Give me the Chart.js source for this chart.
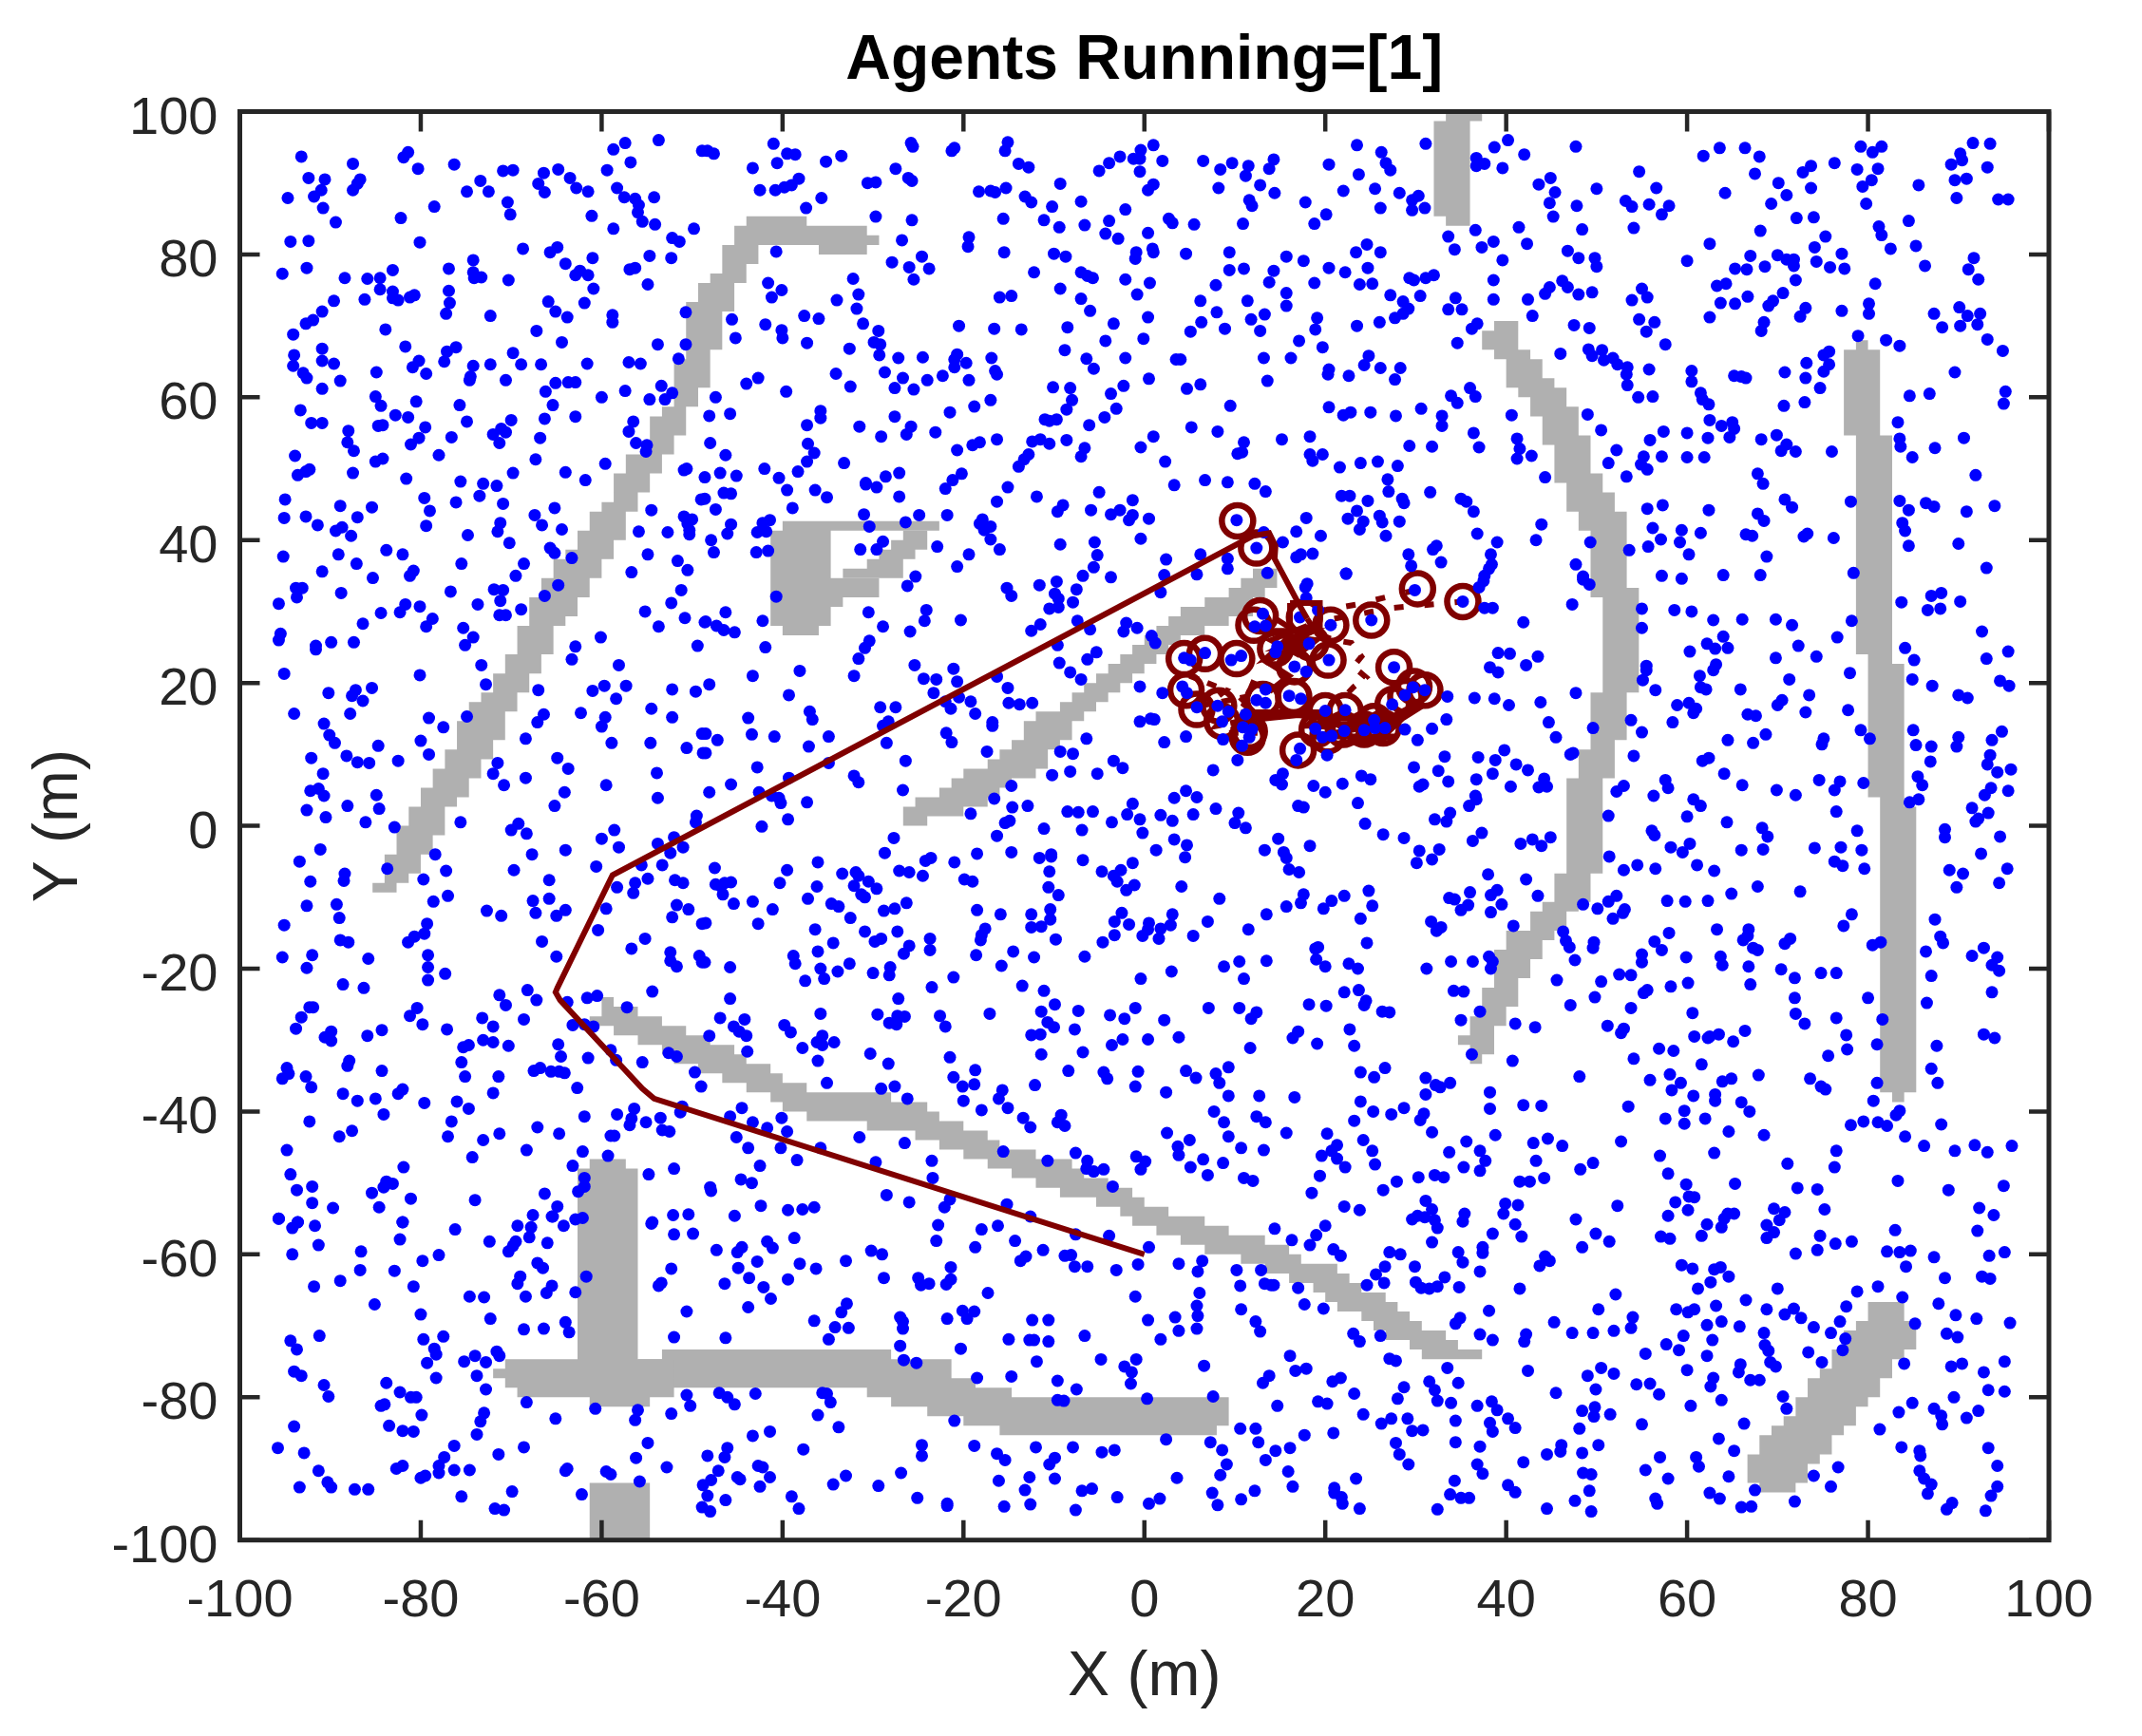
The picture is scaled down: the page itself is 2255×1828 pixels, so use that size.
<!DOCTYPE html>
<html>
<head>
<meta charset="utf-8">
<style>html,body{margin:0;padding:0;background:#fff}canvas{display:block}</style>
<script src="https://cdn.jsdelivr.net/npm/chart.js@4/dist/chart.umd.js"></script>
</head>
<body>
<canvas id="c" width="2255" height="1828"></canvas>
<script>
const tickValues = [-100,-80,-60,-40,-20,0,20,40,60,80,100];

// obstacle outlines: [y where the step starts, x of the edge]
const wallALeft = [[85.33,-44],[84,-45.33],[81.33,-46.67],[77.33,-48],[76,-49.33],[73.33,-50.67],[65.33,-52],[58.67,-53.33],[57.33,-54.67],[52,-57.33],[49.33,-58.67],[45.33,-60],[44,-61.33],[41.33,-62.67],[38.67,-64],[37.33,-65.33],[34.67,-66.67],[32,-68],[28,-69.33],[24,-70.67],[21.33,-72],[18.67,-73.33],[17.33,-74.67],[14.67,-76],[10.67,-77.33],[8,-78.67],[5.33,-80],[2.67,-81.33],[0,-82.67],[-4,-84],[-8,-85.33]];
const wallARight = [[85.33,-37.33],[84,-30.67],[82.67,-29.33],[81.33,-42.67],[78.67,-44],[76,-45.33],[72,-46.67],[66.67,-48],[61.33,-49.33],[58.67,-50.67],[54.67,-52],[52,-53.33],[49.33,-54.67],[46.67,-56],[44,-57.33],[40,-58.67],[37.33,-60],[34.67,-61.33],[32,-62.67],[29.33,-64],[28,-65.33],[24,-66.67],[21.33,-68],[18.67,-69.33],[16,-70.67],[12,-72],[9.33,-73.33],[6.67,-74.67],[4,-76],[2.67,-77.33],[-1.33,-78.67],[-4,-80],[-6.67,-81.33],[-8,-82.67]];
const wallA2Left = [[81.33,-36]], wallA2Right = [[81.33,-30.67]];
const wallBLeft = [[100,33.33],[98.67,32],[85.33,33.33]], wallBRight = [[100,37.33],[98.67,36]];
const wallCLeft = [[70.67,38.67],[69.33,37.33],[66.67,38.67],[65.33,40],[61.33,41.33],[60,42.67],[57.33,44],[53.33,45.33],[48,46.67],[44,48],[41.33,49.33],[32,50.67],[18.67,49.33],[10.67,48],[6.67,46.67],[-6.67,45.33],[-10.67,44],[-12,42.67],[-14.67,40],[-17.33,38.67],[-22.67,37.33],[-26.67,36],[-29.33,34.67],[-30.67,36]];
const wallCRight = [[70.67,41.33],[66.67,42.67],[65.33,44],[62.67,45.33],[61.33,46.67],[58.67,48],[54.67,49.33],[49.33,50.67],[46.67,52],[44,53.33],[33.33,54.67],[18.67,53.33],[12,52],[6.67,50.67],[-6.67,49.33],[-10.67,48],[-12,46.67],[-14.67,45.33],[-16,44],[-18.67,42.67],[-21.33,41.33],[-25.33,40],[-28,38.67],[-32,37.33]];
const wallDLeft = [[68,78.67],[66.67,77.33],[54.67,78.67],[24,80],[4,81.33],[-37.33,82.67]];
const wallDRight = [[68,80],[66.67,81.33],[54.67,82.67],[22.67,84],[2.67,85.33],[-37.33,84]];
const wallELeft = [[42.67,-40],[41.33,-41.33],[28,-40]];
const wallERight = [[42.67,-22.67],[41.33,-34.67],[34.67,-29.33],[32,-33.33],[30.67,-34.67],[28,-36]];
const wallE2Left = [[41.33,-26.67],[40,-28],[38.67,-29.33],[37.33,-30.67],[36,-33.33]];
const wallE2Right = [[41.33,-24],[38.67,-25.33],[37.33,-26.67]];
const wallFLeft = [[36,12],[34.67,10.67],[33.33,9.33],[32,6.67],[30.67,4],[29.33,2.67],[28,1.33],[26.67,0],[25.33,-1.33],[24,-2.67],[22.67,-4],[21.33,-5.33],[20,-6.67],[18.67,-8],[17.33,-9.33],[16,-12],[14.67,-13.33],[12,-14.67],[10.67,-16],[9.33,-17.33],[8,-20],[6.67,-21.33],[5.33,-22.67],[4,-25.33],[2.67,-26.67]];
const wallFRight = [[36,14.67],[33.33,13.33],[32,12],[29.33,9.33],[28,6.67],[26.67,4],[25.33,2.67],[24,1.33],[22.67,0],[21.33,-1.33],[20,-2.67],[18.67,-4],[17.33,-5.33],[16,-6.67],[14.67,-8],[12,-9.33],[10.67,-10.67],[8,-12],[6.67,-14.67],[5.33,-16],[4,-17.33],[2.67,-20],[1.33,-24]];
const wallGLeft = [[-24,-60],[-26.67,-61.33],[-28,-58.67],[-29.33,-56],[-30.67,-53.33],[-32,-52],[-33.33,-49.33],[-34.67,-46.67],[-36,-44],[-37.33,-41.33],[-38.67,-40],[-40,-37.33],[-41.33,-30.67],[-42.67,-25.33],[-44,-22.67],[-45.33,-20],[-46.67,-17.33],[-48,-14.67],[-49.33,-12],[-50.67,-9.33],[-52,-5.33],[-53.33,-2.67],[-54.67,-1.33],[-56,1.33],[-57.33,4],[-58.67,6.67],[-60,10.67],[-61.33,13.33],[-62.67,16],[-64,18.67],[-65.33,20],[-66.67,21.33],[-68,24],[-69.33,25.33],[-70.67,26.67],[-72,29.33],[-73.33,30.67]];
const wallGRight = [[-24,-58.67],[-25.33,-56],[-26.67,-53.33],[-28,-50.67],[-29.33,-48],[-30.67,-45.33],[-32,-44],[-33.33,-41.33],[-34.67,-40],[-36,-37.33],[-37.33,-28],[-38.67,-24],[-40,-22.67],[-41.33,-20],[-42.67,-17.33],[-44,-16],[-45.33,-12],[-46.67,-8],[-48,-6.67],[-49.33,-4],[-50.67,-1.33],[-52,0],[-53.33,2.67],[-54.67,6.67],[-56,9.33],[-57.33,13.33],[-58.67,16],[-60,17.33],[-61.33,21.33],[-62.67,22.67],[-64,24],[-65.33,26.67],[-66.67,28],[-68,29.33],[-69.33,30.67],[-70.67,33.33],[-72,34.67],[-73.33,37.33]];
const wallHLeft = [[-46.67,-61.33],[-48,-62.67],[-74.67,-70.67],[-76,-72],[-77.33,-70.67],[-78.67,-69.33],[-80,-61.33]];
const wallHRight = [[-46.67,-57.33],[-48,-56],[-74.67,-52],[-80,-54.67]];
const wallH2Left = [[-73.33,-53.33],[-74.67,-56],[-78.67,-30.67],[-80,-28],[-81.33,-24],[-82.67,-20],[-84,-16]];
const wallH2Right = [[-73.33,-28],[-74.67,-21.33],[-77.33,-18.67],[-78.67,-14.67],[-80,9.33],[-84,8]];
const wallJLeft = [[-92,-61.33]], wallJRight = [[-92,-54.67]];
const wallILeft = [[-66.67,80],[-69.33,78.67],[-70.67,77.33],[-73.33,76],[-76,74.67],[-77.33,73.33],[-80,72],[-82.67,70.67],[-84,69.33],[-85.33,68],[-88,66.67],[-92,68]];
const wallIRight = [[-66.67,84],[-69.33,85.33],[-73.33,84],[-74.67,82.67],[-77.33,81.33],[-80,80],[-81.33,78.67],[-84,77.33],[-85.33,76],[-88,74.67],[-89.33,73.33],[-92,72]];
const holeALeft = [[34.67,-64]], holeARight = [[34.67,-62.67]];

// robot path
const pathX = [0,-54.2,-55.5,-64.6,-65.1,-64.9,-58.8,-57.9,12,13.8,14.5,14.4,17.1,18];
const pathY = [-60,-38.2,-36.8,-24.4,-23.3,-22.7,-6.9,-6.3,40.6,41,39.2,37.4,31,29];
const squareX = [16.1,19.4,19.4,16.1,16.1], squareY = [31.2,31.2,27.3,27.3,31.2];
const trailAX = [18,19,21,22.9,24,23.1,24.5,23.1,21.7], trailAY = [29,27,26,25.6,23.7,22.3,20.8,19.4,17.5];
const trailBX = [19,23.5,27,30], trailBY = [30,31,32.1,33];
const trailCX = [21,27.3,32.7,35.2], trailCY = [29,30.5,31.1,31.4];
const trailDX = [14.5,17,16,18,15,13.5,16,14,12,11,13,17,20,24,27,30], trailDY = [29,27,25,26,24,23,21,19,20,17,15,15.5,15,15,15,17];
const trailEX = [13,18.7,15,18.7,13.5,16,19,17,14,18], trailEY = [27.3,27.3,25,25.5,23.5,26.5,26,24,26,28];
const trailFX = [10.7,19.4,18,28,18.5,28,21,26,28.5,31], trailFY = [15.9,15.9,14,14.5,12.5,12.5,11.5,12,15,17];
const trailGX = [5,9,7,11,8,12,9,13], trailGY = [21,19,17,18,14,15,13,13];

// agents shown with a ring: x,y,x,y...
const agentRings = [10.3,42.7,12.4,38.9,30.2,33.2,35.2,31.4,25.1,28.8,27.6,22.2,20.6,28.1,12.8,29.4,12.1,28.1,17.7,29.2,18.4,25.6,20.3,23.2,4.4,23.4,6.7,24.1,10.2,23.4,14.5,24.8,16.6,22.3,4.6,19,5.8,16.3,8.2,16.8,8.6,14.6,11.6,13.2,11.4,12.4,13.1,17.7,16.5,18.1,20,16.1,22.2,16.1,17,10.6,19.1,13.5,20.3,12.6,22,13.5,24.3,13.5,25.4,14.6,26.4,13.7,27.5,17,28.9,18.1,31,19,29.8,19.5];

// blue agents by region of the plot: x,y,x,y...
const dotsNW = [-93.2,93.7,-87.5,92.7,-81.4,94.3,-81.9,93.6,-80.3,92,-76.3,92.6,-70.9,91.7,-69.8,91.8,-92.4,90.7,-90.6,90.5,-86.7,90.5,-87,89.9,-91,89,-91.8,88.1,-94.7,87.9,-87.5,89,-90.8,86.5,-89.4,84.5,-78.5,86.7,-82.2,85.1,-74.9,88.8,-73.4,90.3,-72.5,88.8,-70.4,87.3,-70.1,85.6,-66.4,91.4,-67,89.9,-66.3,88.7,-64.8,91.9,-63.5,90.7,-62.8,89.3,-61.5,88.8,-61.1,85.4,-59.4,91.8,-58.7,94.7,-57.4,95.6,-56.8,92.9,-53.7,96,-48.9,94.5,-58.3,89.3,-57.5,88,-56.3,87.8,-55.9,86.9,-56,85.9,-55.5,84.6,-54.2,88,-54.1,84.2,-58.7,83.6,-52.2,82.3,-51.4,81.8,-49.8,83.6,-94.4,81.8,-92.4,81.9,-80.1,81.7,-68.7,80.8,-65.7,80.3,-64.9,81,-95.3,77.3,-92.6,78.1,-88.4,76.7,-85.9,76.6,-84.5,76.7,-83.1,77.8,-84.5,75.1,-83.1,74.8,-83.1,73.9,-82.5,73.6,-81.2,74,-80.7,74.3,-86.2,73.7,-76.9,78,-76.9,74.9,-76.8,73.2,-77.2,71.7,-74.2,79.2,-74.2,77.5,-74.1,76.7,-73.3,76.8,-70.3,76.4,-72.3,71.4,-64,78.7,-61,79.5,-62.4,77.7,-62.9,77.1,-61.5,77.1,-60.9,75.2,-61.9,73.2,-65.9,73.4,-65.1,72,-63.8,71.2,-54.7,79.8,-52.3,79.5,-56.9,77.9,-56.3,78.1,-54.9,75.8,-58.8,71.5,-58.8,70.5,-50.7,71.9,-89.6,73.5,-90.9,72,-91.9,70.8,-92.7,70.3,-94.1,68.8,-83.9,69.5,-81.7,67.1,-90.9,66.8,-94,65.9,-90.9,65.1,-89.6,64.7,-94.1,64.4,-93,63.4,-92.6,62.7,-88.9,62.3,-90.9,61.2,-80.2,65.1,-80.9,64.2,-79.4,63.3,-76.1,67,-77.1,66.4,-77.4,65,-74.2,64.4,-72.3,64.6,-74.5,62.9,-74.6,62.4,-70.6,62.4,-69.8,66.2,-68.9,64.6,-66.7,64.6,-67.2,69.3,-64.4,67.7,-61.6,64.7,-57,64.9,-55.7,64.7,-53.8,67.4,-50.7,67.4,-51.5,65.4,-84.9,63.5,-65.1,62,-63.7,62.1,-62.9,62.1,-66.2,60.8,-60,60,-57.4,60.9,-53.4,61.6,-52.2,60.6,-54.7,59.7,-53,59.7,-85,60.1,-84.4,58.8,-80.5,59.4,-75.7,58.9,-93.3,58.2,-92.1,56.4,-90.9,56.4,-88,55.3,-88.1,53.7,-87.4,52.5,-82.8,57.5,-81.4,57.2,-84.7,56,-84.2,56.1,-79.5,55.8,-80.2,54.3,-81.1,53.4,-76.6,54.4,-74.9,56.6,-70,56.8,-71.1,55.6,-70.6,55.1,-72,54.8,-71.3,53.6,-66.3,57,-65.4,58.9,-62.9,57.3,-66.8,54.3,-56.5,56.6,-57,55.2,-56.2,53.6,-55,53.3,-55.1,52.4,-93.9,51.8,-78,51.9,-67.3,51.3,-59.6,50.7,-84.2,51.4,-85,51,-92.3,49.9,-92.7,49.6,-93.6,49.1,-87.5,49.4,-81.6,48.6,-69.8,49.4,-64,49.5,-61.8,48.4,-50.9,49.8,-50.6,50,-75.6,48.2,-73.1,47.9,-71.6,47.6];
const dotsN = [-48.3,94.5,-47.6,94.1,-41,95.5,-39.5,94.1,-38.6,94,-40.6,92.8,-43.3,92.1,-35.2,93,-33.5,93.8,-42.5,89,-40.8,89,-39.8,89.4,-39,89.7,-38.2,90.6,-35.7,87.9,-37.4,86.5,-30.6,90,-29.7,90.1,-27.5,92,-26.1,90.7,-25.7,90.3,-25.8,95.6,-25.6,95.1,-21,94.9,-21.3,94.5,-15.1,95.7,-15.4,94.5,-13.9,92.7,-12.8,92.2,-9.3,89.9,-18.3,88.8,-17,88.9,-16.5,88.7,-15.3,89.3,-13.2,88.1,-12.5,87.3,-10.2,86.7,-11.1,84.8,-9.4,83.8,-7,87.4,-6.6,84.1,-15.6,85,-29.7,85.3,-25.7,84.8,-26.8,82,-19.4,82.4,-19.5,81.1,-15.5,80.3,-10,80.1,-8.7,79.7,-24.6,79.7,-27.9,78.9,-26,78.2,-23.8,78,-25.5,76.5,-40.7,80.4,-32.2,76.6,-31.6,74.4,-34,73.6,-31.8,72.4,-41.6,76,-40.1,75,-41.2,74,-45.6,70.9,-45.2,68.3,-41.9,70.2,-37.6,71.4,-36,71,-40.1,69.4,-40,68.3,-37.3,67.6,-31.1,70.3,-29.4,69.3,-29.9,67.7,-29.2,67.4,-29.3,65.9,-32.6,66.8,-27.2,65.5,-24.5,65.6,-20.5,70,-16.6,69.6,-13.6,69.5,-12.2,77.5,-16,74,-14.7,74.2,-9.3,75.2,-7,73.8,-6,72.1,-7,77.5,-6.3,77,-5.7,76.7,-8.5,69.8,-8.8,66.6,-6.4,65.4,-5.6,64,-3.4,70.3,-4.3,67.9,-2.1,65.5,-0.1,68.2,0.4,71.2,1,95.3,-0.4,94.6,-1.2,93.4,-0.5,93.4,2,93.1,-0.5,91.6,-2.7,93.7,-3.9,92.8,-5,91.7,1,89.8,0.4,89,-2.1,86.3,-3.9,84.7,-4.3,82.9,-2.9,82.2,0.4,83,2.7,85,3.1,84.4,-0.9,80.3,-1,79.4,0.9,80.8,1,80.3,-2.1,76.5,0.6,76,-0.8,74.4,3.5,65.3,0.5,62.6,-2.3,61.6,-3.7,60.5,-3.1,58.4,-4.4,57.2,-6.1,56.1,-10.1,61.4,-8.2,61.3,-8,59.6,-8.6,58.3,-11,56.9,-10.5,56.7,-9.7,56.9,-42.7,62.7,-44,61.9,-39.6,60.8,-47.4,60,-48.1,57.4,-45.8,57.7,-34.1,63.3,-32.5,61.5,-28.7,63.5,-26.7,62.7,-27.6,61.3,-25.5,61.1,-24,62.4,-22.3,63,-19.4,62.4,-20.7,66,-21,65.3,-19.7,64.8,-21,64.2,-16.9,65.5,-16.5,63.7,-16.3,63.2,-17,59.6,-18.8,58.7,-21.5,57.9,-27.6,57.3,-35.8,58.1,-35.8,57.1,-37.3,56.1,-31.5,55.9,-25.8,55.9,-26.3,54.8,-29.1,54.5,-23.1,55.1,-16.3,54.1,-18.2,53.7,-19,53.3,-20.7,52.6,-12.4,53.8,-11.5,54.1,-10.5,53.5,-8.6,54,-6.6,52.9,-7,51.7,-12.8,52,-13.3,51.3,-13.9,50.3,1,54.5,-0.4,53,2.3,51,-48,53.6,-46.3,51.9,-37.2,53.5,-36.5,52.2,-37.3,51,-33.2,50.8,-42,50,-46.9,49.4,-45.1,49,-40.4,48.7,-38.3,49.6,-27.1,49.4,-28.6,48.9,-20.2,49.3,-21.2,48.4,-30.8,48,-48.6,48.8];
const dotsCentre = [-39.5,47,-36.4,47,-35.1,46,-46.5,46.6,-45.7,46.5,-48.6,45.8,-47.4,44.3,-38.9,44.5,-30.8,47.8,-29.6,47.4,-27.1,46.1,-22,47.2,-15.1,47.4,-11.9,46.1,-5,46.7,-16.3,45.4,-9,44.9,-9.6,44,-5.9,44.2,-1.3,45.6,-2.7,44.2,-3.7,43.6,-1.3,43.5,-1.7,42.8,0.5,43,3.3,47.7,-31,43.6,-24.9,43.5,-21.8,43.5,-26.4,42.5,-30.4,41.9,-17.9,42.9,-18.2,42.3,-17,41.9,-17.7,41.4,-17,40.1,-16,38.7,-19.4,38,-22.9,39.1,-20.7,36.3,-45.7,42.2,-46.1,40.9,-47.9,40,-47.6,38.3,-41.4,42.8,-42.2,42.4,-42.8,41.1,-41.8,41.2,-42.9,38.3,-41.6,38.5,-31.4,38.7,-29.6,38.7,-28.9,39.8,-25.3,34.9,-26.2,33.6,-40.7,32.1,-9.3,39.4,-5.5,39.7,-0.4,40.2,-5.2,37.9,-5.6,36.2,-6.8,35,-3.7,34.8,2.4,37.3,2.2,35.1,1.8,32.7,-11.6,33.7,-9.7,34.2,-15.2,33.3,-14.7,32.2,-9.9,32.5,-9.5,31.8,-7.5,33.1,-7.9,31.3,-10.5,30.4,-9.5,30.6,-46.3,29.9,-30.5,29.9,-42.2,28.7,-48.5,28.6,-47.3,28,-46.5,27.4,-45.3,27.1,-24.1,30.2,-24.3,28.7,-20.3,28.8,-28.9,27.9,-25.9,27.2,-7.4,28.7,-6,27.5,-2,28.4,-2.3,27.2,-0.8,27.7,-11.5,28.2,-12.5,27.3,0.8,26.6,1.2,25.6,-30.4,25.9,-30.9,24.9,-41.9,25,-31.6,23.4,-9.6,25.3,-5.3,24.3,-6.3,23.3,-9.4,22.8,-8.2,21.5,-7,20.5,-25.4,22.5,-21.1,22,-38.1,21.7,-43.3,21,-32.1,21,-48.1,19.8,-24.4,20.6,-23,20.5,-20.7,20.2,-16.3,20.9,-15.1,19.3,-0.5,19.5,2,18.6,-23.3,18.6,-39.3,18.3,-20.5,18,-19.2,17.4,-15,17.2,-13.8,17,-12.4,17.2,-29.2,16.6,-27.5,16.6,-22,17.4,-21.4,16.4,-18.7,15.7,-37,16,-36.7,14.9,-43.8,15.1,-28.3,14.6,-28.9,14,-16.8,14.5,-16.8,14,-0.5,14.6,0.7,15,1.1,14.9,-21.9,13,-21.3,11.7,-48.5,12.9,-43.4,12.8,-47.2,12,-40.9,12.5,-34.9,12.5,-37.1,11.1,-28.5,11.6,-6.4,12.2,2.2,11.7,-48.5,10.2,-17.4,10.4,-9.3,10.4,-7.9,10.1,-26.4,9.1,-34.9,8.8,-42.8,8.2,-3.4,9.1,-2.4,8.1,-8.2,7.6,-5.2,7.3,-10.2,7.1,-32.1,7,-31.6,6.1,-39.3,6.7,-45.7,5.8,-48.1,4.7,-42.6,4.7,-26.7,5,-14.7,5.6,-41.2,4.2,-40.4,3.9,-40.2,3.2,-37.3,3.3,-16.6,3.8,-14.6,2.6,-12.9,2.8,-1.3,3.1,3.3,3.9,-8.5,2,-7.3,1.9,-5.7,2,-1.9,1.6,-19.2,1.7,1.8,1.5,-0.5,0.9,3.1,0.7,-39.4,0.9,-14.9,0.7,-15.4,0.4,-3.6,0.5,-42.3,-0.1,-11.1,-0.4,-6.9,-0.6,-0.2,-1,-16.3,-1.4,-27.7,-1.7,3.3,-1.9,1.3,-3.4,-28.7,-3.8,-18.5,-3.9,-14.7,-3.7,-10.3,-4];
const dotsWest = [-95,45.7,-88.9,44.8,-85.4,44.6,-95.1,43.1,-92.7,43.3,-91.4,42.1,-87,43.2,-89.4,41.3,-88.7,41.8,-87.7,40.6,-79.6,45.9,-79,44.1,-79.4,42,-76.1,45.3,-73.5,46.2,-70.9,45.1,-74.8,40.7,-71.2,42.4,-71.5,41.2,-70.2,39.6,-67.4,43.5,-66.6,42.1,-65.2,44.5,-64.4,41.5,-65.7,38.9,-65.2,38.2,-63.3,37.5,-54.5,44.2,-55.9,41.2,-52.7,41.1,-50.9,43.3,-50,42.9,-50.5,42.3,-50.3,41.4,-50.3,40.8,-49,45.7,-95.2,37.7,-89.1,38,-83.8,38.6,-82,38,-87.1,36.7,-90.9,35.6,-85.3,34.7,-80.8,35.7,-81.2,35,-75.5,36.7,-68.6,36.7,-69.5,35,-54.9,38,-51.6,37.1,-56.7,35.5,-50.5,35.8,-51.2,33,-93.8,33.3,-93.1,33.3,-93.7,32,-88.8,32.6,-95.7,31.1,-76.7,32.8,-71.9,33.1,-70.9,33,-71.2,31.5,-64.8,33.7,-66.3,32.2,-73.7,31,-81.7,31,-82.3,29.9,-80.1,30.7,-84.4,29.8,-68.9,30.3,-71.3,29.5,-70.6,29.5,-52.3,31.2,-55.2,30,-50.8,29.1,-48.6,28.5,-86.4,28.3,-78.7,29,-79.4,27.9,-75.3,27.7,-74.2,26.4,-75.1,25.3,-53.7,27.9,-95.5,26.9,-95.7,26,-89.9,25.7,-87.4,25.7,-91.6,25.2,-91.6,24.7,-60.1,26.4,-62.9,25.1,-49.4,25.2,-63.3,23.3,-73.3,22.5,-58.1,22.5,-80.1,21.1,-95.1,21.3,-72.8,19.8,-85.4,19.3,-87.2,19,-90.2,18.6,-87.6,18.2,-86.4,17.5,-67,19,-61,18.9,-59.7,19.6,-57.3,19.6,-52.2,19.1,-49.6,18.8,-58.4,17.8,-94,15.7,-87.8,15.7,-79.1,15.1,-74.9,15.3,-77.5,13.8,-90.7,14.3,-66.4,15.6,-67.1,14.5,-62.3,15.8,-59.6,15.2,-60,13.9,-54.5,16.4,-52.2,15.2,-90.1,12.7,-89.5,11.6,-84.7,11.2,-80,11.9,-68.4,12.2,-58.9,11.6,-54.6,11.6,-50.6,10.9,-48.9,12.9,-48.8,10.2,-88.2,9.8,-92.1,9.5,-87,8.9,-85.7,8.8,-82.5,9.1,-79.1,10,-71.5,8.8,-64.9,9.5,-63.7,8,-90.8,7.3,-72,7.3,-68.4,6.7,-53.9,7.4,-70.8,5.7,-59.5,5.7,-91.3,5.2,-92.2,4.9,-90.7,4.2,-84.9,4.3,-64.1,4.7,-53.8,3.9,-65.2,2.8,-88.1,2.8,-92.6,2.2,-84.6,2.4,-90.5,1.2,-86.1,0.5,-82.9,-0.2,-75.6,0.5,-69.2,0.3,-70,-0.6,-68.3,-1.1,-58.6,-0.6,-60,-1.8,-58.1,-3,-49.5,1.4,-49.6,0.5,-52,-1.6,-53.8,-2.5,-51,-3,-52.4,-3.8,-91.1,-3.3,-78.4,-4,-67.7,-4,-64,-3.4];
const dotsSouthWest = [-93.4,-5,-88.4,-6.7,-88.5,-7.7,-92.2,-7.8,-83.7,-6,-77.2,-6.3,-79.7,-7.5,-69.7,-6.2,-60.6,-5.7,-65.8,-7.6,-55.6,-5.5,-53.3,-5.5,-56.3,-8,-54.9,-7.4,-58.3,-8.6,-56.5,-9.4,-51.9,-7.6,-51,-8,-89.3,-11,-92.6,-11.2,-77,-9.8,-78.6,-10.6,-67.6,-10.5,-65.8,-10.2,-67.3,-12.2,-65,-12.6,-64,-11.8,-59.5,-11.6,-51.7,-11.1,-50.4,-11.7,-52.2,-12.8,-72.7,-11.9,-71.1,-12.6,-89,-12.9,-95.1,-13.9,-79.3,-13.7,-79.6,-15.1,-80.7,-15.5,-81.4,-16.3,-60.4,-14.6,-48.9,-13.7,-88.9,-16,-88,-16.3,-66.6,-16.2,-55.2,-15.8,-56.7,-17.2,-95.3,-18.4,-92,-18.1,-85.8,-18.6,-79.2,-18.1,-79.2,-19.8,-92.6,-19.9,-65,-18.3,-52.4,-17.7,-52.4,-18.9,-51.7,-19.7,-49.2,-18.2,-48.9,-19.1,-77.3,-20.7,-79.2,-21.6,-88.6,-22.2,-86.3,-22.7,-71.3,-23.7,-68.2,-23,-67.2,-24.4,-70.6,-25.1,-54.4,-23.2,-63.8,-24.7,-61.6,-24.1,-60.5,-23.8,-57.2,-25.4,-92.3,-25.4,-91.9,-25.4,-93.2,-26.8,-80.4,-25.5,-81.2,-26.6,-79.8,-27.8,-73.2,-26.9,-68.6,-27.1,-72,-28.1,-93.8,-28.4,-89.9,-28.8,-90.6,-29.6,-89.9,-30.1,-84.3,-28.6,-85.9,-29.4,-77.1,-28.5,-63.2,-27.9,-61.9,-27.8,-60.9,-28.1,-73.1,-30,-72,-30.3,-70.3,-30.8,-74.7,-30.7,-75.3,-31,-64.8,-30.6,-64.5,-32.3,-59,-31.4,-58.4,-32.8,-61.5,-32.5,-55.5,-33.1,-52.6,-31.8,-51.7,-32.3,-75.5,-33.1,-87.9,-32.9,-88.1,-33.6,-94.8,-33.9,-94.6,-34.7,-95.3,-35.4,-92.7,-35.1,-84.3,-34.3,-75.1,-35.1,-71.4,-35.1,-67.5,-34.3,-66.8,-33.9,-65.6,-34.4,-64.7,-34.4,-64.1,-34.6,-49.7,-34.5,-92.1,-36.6,-62.7,-36.7,-49,-36.5,-72,-37.4,-88.6,-37.5,-82,-36.9,-82.5,-37.5,-85,-38.2,-87,-38.5,-76,-38.6,-74.7,-39.6,-79.6,-38.8,-84.1,-40.4,-56.4,-39.6,-51.1,-39.3,-51.3,-40.1,-61.9,-40.7,-58.3,-40.4,-53.5,-40.9,-92.3,-41.4,-76.6,-41.4,-56.7,-41,-56.9,-41.9,-55.1,-41.5,-87.6,-42.7,-89,-43.5,-77,-43.5,-71.3,-43.1,-67.1,-42.2,-64.7,-43.1,-59,-43.4,-58.6,-43.4,-53.3,-42.6,-52.5,-42.8,-73.1,-44,-94.8,-45.4,-68.3,-45.4,-62.1,-45.6,-59.3,-46.2,-74.3,-46.4,-63.2,-47.6,-81.9,-47.8,-52,-48,-54.8,-48.8,-94.4,-48.8,-61.9,-49.3,-61.9,-50.5,-62.6,-51.2,-92,-50.5,-93.7,-51,-83.1,-50.1,-83.8,-49.8,-84.1,-50.6,-85.4,-51.4,-66.3,-51.5,-81.1,-52.2,-74,-52.4,-92,-52.8,-89.7,-53.5,-84.6,-53.4,-64.9,-53.3,-67.6,-54.5,-65.5,-54.7,-62.1,-54.9,-52.1,-54.5,-50.4,-54.4,-95.7,-55,-93.6,-55.5,-82,-55.5,-54.4,-55.5];
const dotsSouthCentre = [-47.5,-5.9,-39.5,-6.2,-36.1,-5.1,-33.4,-6.7,-31.9,-6.5,-31.6,-7,-30.5,-7.8,-32.1,-8.4,-31.3,-9.6,-29.6,-8.8,-27.1,-6.3,-26,-6.5,-24.5,-7,-24.2,-4.9,-23.6,-4.5,-21,-5.1,-19.9,-7.5,-19,-7.8,-11.6,-4.5,-10.3,-4.3,-10.5,-6.4,-10.6,-8.6,-9.5,-9.7,-6.8,-4.8,-4.7,-6.4,-2.6,-6.2,-3.4,-7,-3,-7.8,-1.3,-5.2,-1.1,-8.3,-2,-9,4.1,-8.5,8.3,-10.2,13.3,-3.4,4.5,-4.4,4.7,-2.7,5.4,1.6,7.9,2.4,10.4,1.8,10,0.4,11.2,-0.3,-47.4,-8.2,-46.8,-8.5,-46.4,-8,-45.7,-7.9,-46.6,-9.6,-45.4,-10.9,-43.3,-10.6,-41.1,-11.7,-40.3,-8,-36.2,-8.5,-37.2,-10.2,-34.6,-10.9,-33.8,-11.3,-32.5,-12.9,-28.8,-11.9,-27.6,-11.6,-26.3,-10.8,-30.9,-10,-48.5,-13.6,-42.7,-13.7,-36.4,-14.5,-30.9,-14.8,-27.3,-14.8,-29.1,-15.8,-29.8,-16.2,-34.4,-16.4,-23.7,-15.8,-23.7,-17.4,-26,-16.8,-26.6,-17.9,-36.1,-17.6,-38.8,-18.2,-38.6,-19.3,-48.6,-19.1,-45.8,-19.8,-35.8,-20,-33.9,-20.4,-32.6,-19.3,-35.4,-21.4,-37.5,-21.7,-30,-20.6,-28.1,-19.8,-28.2,-20.9,-23.5,-22.6,-21.1,-21.2,-18.5,-11.8,-15.9,-12.4,-17.6,-14.4,-18,-15.3,-18.1,-16,-12.5,-12.4,-10.4,-11.7,-10.4,-13.1,-12.5,-14.2,-11.4,-14.1,-9.8,-15.9,-14.5,-17.6,-18.6,-18.1,-12.2,-18.4,-15.8,-19.6,-6.6,-18.3,-2.5,-12.2,-3.3,-13.4,-1.7,-13.8,-3.3,-15.3,-4.6,-16.3,0.5,-13.6,0.4,-14.5,-0.2,-15.4,3.1,-12.4,2.9,-13.9,1.8,-14.4,1.6,-15.8,7,-13.4,5.4,-15.4,11.5,-14.5,13.5,-12.4,8.8,-19.7,10.5,-19,13.5,-18.9,3,-20.4,-0.4,-21.4,11,-21.4,-13.5,-22.4,-11.1,-23.1,-9.9,-25,-11.4,-26,-7.3,-25.9,-10.7,-27.5,-10,-28.2,-7.7,-28.5,-12.5,-29.3,-11.5,-29.2,-3.8,-26.5,-2.2,-27,-1,-25.5,2.2,-27.2,7.1,-25.5,10.5,-25.5,12.4,-26.1,11.8,-27,3.8,-29.6,0.4,-29.9,-2.4,-29.9,-3.6,-30.7,11.7,-31.1,-6.8,-31.7,-11.4,-32,-45.8,-24.2,-27.2,-24.2,-35.8,-26.3,-29.5,-26.4,-27.3,-26.6,-26.5,-26.7,-28.2,-27.6,-27.4,-27.8,-22.6,-26.6,-22,-28.1,-17.1,-26.3,-46.9,-26.9,-44.2,-27.1,-45.4,-28.1,-44.8,-28.8,-44,-29.4,-48.1,-29.4,-39.8,-27.9,-39.1,-28.9,-35.6,-29.4,-36.2,-30.3,-35.6,-30.7,-34.3,-30.3,-37.8,-31.1,-43.9,-31.6,-36.1,-32.9,-30.3,-31.9,-28.3,-33.3,-21.5,-32.4,-35.1,-36,-18.7,-34.2,-21.1,-35.2,-20.1,-36.5,-18.8,-36.2,-29.1,-36.8,-27.6,-36.5,-26.2,-38.2,-20,-38.5,-15.7,-37,-16.1,-38.2,-12.1,-36.3,-18,-39.8,-15.1,-39.5,-13.4,-40.9,-12.6,-42.2,-9.2,-40.5,-9.6,-41.5,-8.8,-42,-8.4,-34.3,-4.5,-34.5,-4.1,-35.4,-0.7,-34.4,-1,-36.5,2.4,-37.3,4.6,-34.3,5.7,-35.3,7.9,-34.7,8.3,-36,9.3,-33.8,9.3,-37.8,12.7,-37.8,7.7,-40,8.8,-41.5,12.4,-40.7,13.4,-41.5,2.5,-43,5,-44,9.3,-43.5,3.7,-44.9,3.8,-46.1,10.7,-45.1,13.2,-45.4,-0.9,-46.3,0.1,-47,-0.4,-48.1,6.5,-46.7,5.1,-47.8,8.7,-47.2,7,-48.9,11,-49.3,12,-49.7,-7.6,-45.8,-10.7,-46.9,-6.3,-46.9,-6.4,-48,-5.6,-48.4,-4.5,-48.1,-15.6,-45.6,-3.5,-50.5,-44.5,-39.5,-45.8,-40.7,-43.3,-41.5,-40.1,-40.9,-41.7,-42.3,-39.5,-42.8,-45.1,-43.6,-31.5,-43.6,-26.5,-44.4,-43.8,-45.1,-40.2,-45.1,-35.8,-45.1,-38.4,-46.8,-29.7,-47.1,-23.5,-46.9,-42.5,-47.6,-44.6,-49.5,-43.4,-50,-23.4,-49.3,-48,-50.6];
const dotsCluster = [18,33.9,17.8,33.4,17.9,31.9,22.3,35.3,17.2,29.2,19.2,30.2,20.6,28.1,25.1,28.8,29.9,33,35.2,31.4,13.1,29.7,12.2,27.9,13.4,28,18.2,25.5,14.7,25.1,14.5,24.3,6.7,24.2,10.7,23.8,9.6,23.2,4.4,23.5,5.1,23.2,20.4,23.2,16.6,22.3,17.9,21.6,27.6,22.2,4.2,19.5,4.7,18.6,5.8,16.6,8.1,16.8,9.3,16,8.6,14.6,11.2,15.6,10.9,13.8,11.9,13.5,11.6,12.4,10.8,11.2,8.7,12.1,13.4,19.1,12.4,17.6,13.4,17.2,16,18.2,17.3,17.8,20,16.1,22.2,16.2,18.9,13.6,19.7,12.4,20.7,12.6,22.1,13.3,24.3,13.4,25.4,14.8,25.5,13.7,26.6,13.7,27.4,17,28.8,18.3,29.7,19.4,31,19,33.5,18.1,36.5,17.9,38.7,17.8,40.3,16.9,33.4,14.9,31.8,13.6,28.8,13.5,30.2,12,17.2,10.8,16.8,9.2,20.2,9.9,4.6,12.5,10.3,9.2,7.6,7.8,33.2,9.7,36.9,9.6,38.8,9.2,39.8,10.6,41.1,8.6,29.8,8.2,32.5,7.7,38.5,7.3,33.6,6.2,36.7,6.5,40.5,5.5,30.8,5.8,30.4,5.5,24,7,25,6.5,21.9,5.9,18.7,5.6,20,4.7,15.3,7.3,14.5,6.4,15.2,5.8,4.6,4.9,5.8,4,36.6,4.2,39.1,24.2,40.4,24.1,38.2,22.2,39.1,21.5,37.6,30.5,38.5,30.5,37,33.4,37.5,34.3];
const dotsEast = [48.5,34.5,49.2,33.8,47.3,31,41.9,28.5,43.5,23.7,42.2,22.5,43.8,17.3,47.7,18.6,44.7,14.5,45.5,12.4,47.4,10.2,47.1,10,49.6,13.7,53.8,14.8,55,13.1,54.1,9.8,42.4,7.8,44.2,6.6,43.6,5.4,44.5,5.5,53,5.6,52.2,4.8,56.3,4.2,57.6,6.4,57.9,5.3,55,30.4,55,27.7,58.6,30.2,60.5,30,62.9,28.8,66.1,28.9,69.8,28.9,71.6,28.1,64,26.5,62.2,25.5,63.1,24.8,64.5,24.9,60.3,24.4,72.3,25.2,69.8,23.5,74.3,23.7,76.6,26.4,78,21.4,78.2,28.7,55.5,22.4,55.5,21.8,55.1,20.4,56.5,19,63.2,22.6,62.9,21.8,61.4,21,61.5,19.4,62.1,19.1,65.9,19.1,71.3,20.5,73.5,18.3,70.5,17.6,70,16.9,58.9,16.9,60.2,17.2,61,16.4,60.7,15.8,58.4,14.5,66.7,15.6,67.6,15.4,73.1,15.9,77.8,16.2,68.7,12.8,67.3,11.6,64.5,12,75.1,12.2,74.9,11.4,79.2,13.4,80.2,12.2,62.4,9.5,61.7,9.1,64.1,7.3,66.1,5.7,69.9,5,72,4.3,74.6,6.4,76.9,6.2,76.3,5,79.5,6,83.7,31.3,87,32.2,88.1,32.6,86.6,30.2,88,30.4,90.2,31.4,92.6,27.2,84.1,24.9,85.1,23.2,93.1,23.4,95.5,24.4,84.9,20.5,87.1,19.6,94.6,20.3,95.6,19.6,90,18.3,91,17.9,85,13.4,85.3,11.3,87,11.1,90,12.4,89.8,11.1,94.8,13.2,93.7,12,86.9,9,93.5,9.9,93.2,8.6,94.3,7.5,95.8,7.9,85.5,6.9,86,5.7,93.6,5.3,92.9,4.3,95.5,4.9,84.6,3.3,85.6,3.7,91.5,2.5,93.3,1.8,92.2,1,91.9,0.6,88.5,-0.5,88.5,-1.6,94.6,-1.5,92.5,-3.9,76.5,2,78.8,-0.7,77,-3,79.3,-3.4,74.1,-3.1,76.3,-5,77.2,-5.6,79.6,-6,89,-6.2,90.5,-6.7,95.4,-6,89.8,-8.6,94.5,-8,60.7,3.7,61.5,2.8,60,1.3,64.4,0.5,68.3,-0.3,68.9,-1.5,51.3,1.4,56.1,-0.7,56.4,-1.3,58.2,-3,60.3,-2.5,59.5,-3.7,66,-3.4,68.4,-3.3,51.4,-4.3,54.5,-5.5,56.5,-6,53,-6.2,61.1,-5.5,63,-6.3,67.8,-8.5,64.9,-9.5,72.5,-9.2,62.3,-10.5,59.8,-10.6,57.8,-10.5,52.2,-9.8,51.3,-10.6,48.5,-11,50.1,-11.6,53.1,-11.7,52.9,-12.2,51.8,-13,38,-6.8,42.2,-7.5,43.5,-9.8,17,2.8,17.6,2.6,23.6,3.2,32.1,0.9,33.8,1.8,33.4,0.6,24.4,0.3,26.4,-1.2,28.7,-1.7,37.3,-1,36.3,-2.1,41.6,-2.5,42.9,-1.9,43.9,-2.8,44.9,-1.6,14.8,-1.8,18.3,-2.8,15.4,-3.7,15.7,-4.5,16,-6.1,17.1,-6.5,30.4,-3.5,32.6,-3.3,30.1,-5.2,31.8,-4.7,35.9,2.8,36.7,3.7,17.6,-9.6,17.3,-10.8,15.7,-11.3,20.7,-10.5,19.8,-11.6,22.1,-9.8,24.8,-9.1,25.2,-11.2,23.9,-13,33.7,-10.1,36,-9.3,34.3,-10.3,35.8,-11.1,35,-11.8,39,-9,38.3,-9.7,39.5,-11,38.3,-12.1,31.7,-13.4,32.8,-14.2,32.3,-14.7,40.8,-14,24.6,-16.4,19.2,-17,18.9,-17.2,19,-18.7,20,-19.7,22.6,-19.3,23.6,-20,31.2,-20,33.9,-19,36.3,-19,38.1,-18.3,38.5,-19,38.3,-20,34.2,-23.1,35.3,-23.2,22.1,-23.3,23.7,-23,24.5,-24.5,24.3,-25.1,18.2,-25,20.1,-25.2,26.3,-26,27.1,-26.1,37.1,-26,35,-27.2,22.7,-28.5,17,-28.8,16.4,-29.7,19.1,-30.5,23.2,-30.8,41,-27.7,43.2,-28.2,36.2,-32,40.7,-32.9,23.9,-34.5,26.6,-33.9,25.4,-35.2,31.1,-35.3,32.2,-36.3,32.7,-36.6,33.8,-36,31.1,-37.6,38.2,-37.3,16.6,-38,23.9,-38.6,38.2,-39.6,41.9,-39.1,43.9,-39.2,25.3,-40,27.3,-40.4,28.7,-39.5,30.9,-40.3,30.5,-41.2,23.2,-41.3,15.7,-43,20.2,-43.1,31.8,-42.9,38.8,-43.3,44.6,-43.8,43,-44.4,24.2,-44,35.6,-44.2,46.2,-44.8,21.3,-44.7,25.2,-45.5,20.7,-45.5,19.6,-46.2,33.7,-45.7,37.1,-45.5,46.3,-14.8,46.6,-16.1,47,-17,49.6,-17.1,49.7,-16.3,47.6,-18.8,45.6,-21.6,50.5,-21.8,52.5,-20.8,53.8,-20.9,49.8,-24,47.1,-25.1,55.6,-23,55.2,-23.4,53.8,-25.5,58.2,-22.5,60.1,-22,51.2,-28,53,-28.4,52.7,-29,60.6,-26.2,56.4,-16.2,57.2,-17.4,55,-18,55,-19.1,59.9,-18.4,58,-15,63.7,-18.3,63.9,-19.5,63.3,-14.5,66.8,-14.5,66.7,-15.4,66.2,-16,67.3,-17.1,67.8,-17.4,66.8,-19.7,67,-22.2,71.4,-15.8,70.8,-16.5,70.4,-20.1,71.9,-21.3,74.8,-20.6,76.5,-20.6,78.2,-12.4,77.3,-14,80.5,-16.7,81.4,-16.3,71.9,-24.1,80,-24.1,72,-26.3,73,-27.7,76.5,-26.9,81.6,-27.1,77.6,-29.3,77.7,-31.3,81,-30.6,75.6,-32.2,86.4,-17.6,87.4,-13.1,88,-15.5,88.3,-16.4,91.5,-18.2,92.8,-17.1,94.3,-18.4,93.7,-19.5,94.5,-20.3,87,-21,93.7,-23.3,86.5,-24.8,92.8,-29.2,94,-29.7,87.6,-30.8,87,-34,87.7,-36,66.4,-28.7,65.1,-30.2,63.5,-29.2,62.5,-29.5,60.8,-29.5,62.3,-29.7,56.9,-31.2,58.5,-31.5,54.1,-32.6,61.6,-33.4,48.1,-35.1,58.1,-34.8,55.9,-35.6,59.3,-36,58.3,-37,60.7,-37.8,63.1,-37.6,63.1,-38.5,63.9,-35.8,64.9,-35.4,67.9,-34.9,66,-38.7,66.9,-40,73.6,-35.4,74.8,-36.5,75.3,-36.9,81,-36,80.6,-38.5,53.5,-39.3,59.7,-39.9,57.6,-41,62,-41,59.7,-41.7,64.6,-42.8,68.5,-43.3,52.7,-44.2,63,-45.8,57,-46.2,76.5,-45.5,78.1,-41.9,79.5,-41.4,81.1,-41.5,82.1,-42,83.1,-40.5,83.5,-39.9,88.1,-41.8,84.1,-43.5,86.2,-44.8,89.6,-45.5,91.8,-44.7,93.2,-45.7,95.9,-44.8];
const dotsSouthEast = [21.3,-46.6,22.2,-47.8,25.5,-47.4,19.4,-49,18.5,-51.4,26.4,-51,27.9,-49.8,30.3,-49.2,32.1,-48.9,33.1,-49.2,35.3,-47.8,37.1,-48.3,37.7,-46.9,43.3,-46.9,41.5,-49.8,42.6,-49.8,44.2,-49.3,48.2,-48.1,49.6,-47.2,57.9,-48.7,59.9,-50.2,60.2,-51.9,65.3,-50.1,71.1,-47.3,72.2,-50.7,74.4,-50.9,76.3,-47.8,83.3,-49.7,88.9,-51,95,-50.4,92.3,-53.5,93.9,-54.5,92.1,-56.7,83,-56.6,75.2,-53.7,70.8,-54.1,69.6,-53.6,70.2,-55.2,68.8,-55.9,69.6,-56.9,68.8,-57.7,74.7,-57.4,76.4,-58.5,78.2,-58.2,74.4,-59.4,72,-59.9,82.1,-59.6,83.5,-59.7,84.7,-59.5,87.3,-60.4,93.4,-60.2,95.1,-59.7,84.2,-61.7,88.5,-63.3,92.6,-63.1,93.5,-63.4,52.3,-53.2,47.7,-55.1,49.9,-57.1,51.4,-58.2,48.4,-59,57.1,-57.5,58.1,-57.8,61.6,-57.4,62.2,-55.8,63.8,-56.2,64.1,-55,64.5,-54.3,65.2,-54.3,58.7,-52.7,57.9,-54.6,60.8,-52,60.1,-53.8,41.3,-53.1,39.9,-52.9,39.7,-54.3,41,-55.8,41.7,-57.5,38.5,-57.1,37.4,-59,37.4,-59.8,35.4,-54.3,35.2,-55.4,34.7,-59.7,35.2,-61.1,31.8,-58.3,31.1,-52.5,31.8,-53.7,30.2,-54.6,31,-54.8,29.6,-55.1,32.1,-55.2,32.4,-56.3,22.1,-53.3,23.8,-53.8,20,-56,19,-57.3,18.3,-58.7,16.3,-58,14.4,-56.4,20.9,-59.3,21.7,-60.2,27.1,-59.7,28.3,-60,26.6,-61.7,25.6,-62.8,26.5,-64,29.9,-61.7,30,-63.9,30.6,-64.7,31.5,-64.8,32.4,-64.5,33.2,-63.2,34.8,-64.6,24.6,-64.3,37.1,-62.4,41.5,-64.8,44.3,-60.3,44.8,-60.9,43.7,-61.6,59.4,-61.5,60.6,-62,63,-62.1,63.7,-61.8,64.6,-63.1,62.6,-63.9,61.2,-64.8,70,-64.8,52.1,-65.6,17,-64.7,14.3,-64.3,17.7,-67,19.8,-67.6,38.1,-67.9,34.9,-68.9,34.4,-69.7,50.2,-67.7,45.3,-69.5,47.3,-71,49.6,-71,51.9,-70.7,54,-68.8,53.8,-70.3,58.8,-67.7,60.1,-68.1,60.8,-67.7,63.2,-67.2,66.5,-66.4,68.8,-67.7,71.8,-67.6,70.8,-68.4,72.6,-68.9,74,-70.2,78.8,-65.2,81.1,-64.5,83.8,-66,77.6,-67.3,76.9,-69.4,87.8,-66.9,89.7,-68.5,92,-69,95.7,-69.6,85.2,-69.7,62.2,-69.9,63.8,-69.4,65.8,-70.1,68.5,-71,75.9,-71,77.5,-71.8,77.2,-73.4,88.7,-71.1,89.9,-71.6,37.1,-71.2,38.5,-72,42.2,-71.2,42,-72.2,23.1,-71.1,23.8,-72.2,26.1,-71.4,59.6,-71.4,62.8,-72,57.7,-72.6,59.1,-73.4,55.4,-73.9,62.2,-74.2,68.6,-72.7,69,-73.5,73.4,-73.7,16.1,-74.2,27.1,-74.6,27.8,-74.9,69.2,-75.1,69.8,-75.7,74.9,-75.1,65.9,-75.4,65.7,-76.5,60,-76.2,84,-75.3,89.2,-75.7,90.4,-75.3,95.1,-75,92.8,-76.5,33.5,-75.9,42.4,-76.3,50.5,-75.9,51.9,-76.7,49,-77,16.7,-76.3,17.9,-76,67,-77.6,68,-77.6,62.9,-77.3,62.6,-78.5,54.4,-78.2,55.9,-78.1,56.9,-79.6,21.7,-77.3,20.8,-77.8,31.5,-77.8,34.7,-78,28.7,-78.6,32.1,-79,49.9,-78.9,45.5,-79.4,23.2,-79.5,28,-80.2,32.4,-80.5,33.9,-80.8,19.2,-80.6,20.2,-80.9,14.7,-81.2,36.8,-81.2,38.4,-80.6,39,-81.8,70.6,-79.9,63.8,-80.4,89.5,-80,93.3,-79,95.1,-79.2,84.9,-80.8,87.3,-81.6,71,-81.6,60.4,-81.2,49.8,-81.4,48.4,-81.9,49.7,-82.7,51.5,-82.4,83.4,-82.1,88.1,-82.6,88.2,-83.8,92.2,-81.9,90.9,-82.9,24.2,-82.4,27.3,-83,29.1,-83,26.2,-83.7,34.4,-83.3,40.2,-83,38.2,-83.6,41,-84.3,38.5,-84.8,66.3,-83.7,55,-83.8,48.1,-84.4,29.6,-84.7,30.8,-84.6,81.3,-84.5,17.7,-85.3,20.9,-85,63.5,-85.8,27.8,-86.4,34.4,-86.3,37.1,-86.9,16.1,-87.1,14.5,-87.5,46.1,-86.7,46,-87.6,50.2,-86.7,44.5,-88,48.4,-87.8,65.2,-87.5,83.7,-87,85.7,-87.5,85.8,-88.2,93.3,-87.1,28.2,-88,29.2,-89.4,57,-88.4,61,-88.4,61.3,-89.7,41.9,-89.1,36.8,-89.4,37.4,-90.7,15.9,-90.4,94.3,-89.6,76.7,-89.8,85.7,-90.3,48.5,-90.6,49.4,-90.8,55.4,-90.2,64.6,-91.1,57.9,-91.4,74,-91,86.2,-91.4,87,-92.2,75.9,-92.5,23.4,-91.4,34.3,-91.7,40.2,-92.3,41,-93.3,49.2,-93.1,16.4,-92.5,21,-92.7,21,-93.4,21.8,-94,21.9,-94.9,67.5,-93,94.3,-92.5,93.6,-93.8,86.6,-93.5,62.5,-93.4,63.6,-94.2,33.8,-93.6,35,-94.1,35.9,-94.1,56.5,-94.2,56.7,-94.9,47.6,-94.5,71.9,-94.6,89.3,-94.8,88.7,-95.7,23.8,-95.6,32.4,-95.7,44.5,-95.6,49.4,-96,66,-95.4,67.1,-95.3,93,-95.9];
const dotsBottomLeft = [-76.2,-56.5,-91.7,-56,-94.2,-56.3,-93.6,-55.5,-95.7,-55,-82,-55.5,-69.3,-56,-67.8,-56.2,-64.2,-56,-62.9,-55.1,-65.4,-54.7,-54.5,-55.7,-52,-57.2,-49.9,-57.1,-82.3,-57.9,-91.3,-58.7,-68,-57.6,-66,-58.4,-72.4,-58.2,-69.5,-58.2,-69.8,-58.8,-70.3,-59.6,-86.6,-59.6,-94.2,-60,-78,-60.1,-79.8,-60.9,-67.1,-61.2,-66.5,-61.9,-86.7,-62.2,-82.9,-62.3,-52.3,-62,-61.7,-63.1,-69,-63.1,-69.3,-64.1,-88.9,-63.7,-91.8,-64.5,-80.8,-64.5,-65.5,-64.4,-66.1,-65.4,-62.9,-65.3,-53.4,-64,-53.7,-64.4,-68.4,-65.9,-74.6,-65.9,-73,-66,-85.1,-67,-50.6,-68,-80,-68.4,-72.3,-69,-64,-69.5,-68.6,-70.5,-66.4,-70.4,-63.6,-70.9,-91.2,-71.4,-94.4,-72.1,-93.7,-73.3,-79.7,-71.9,-77.5,-71.5,-52,-71.6,-78.5,-73.2,-78.3,-74,-74,-74.2,-75.2,-75,-71.6,-73.6,-71.3,-74.2,-72.8,-75.1,-79.3,-75.2,-78.3,-77.3,-73.8,-77,-94,-76.4,-93.2,-77,-83.8,-78,-90.7,-78.3,-82.3,-79.3,-90.2,-79.9,-81.1,-80,-80.5,-80,-72.8,-78.9,-68.3,-80.7,-84.4,-81.2,-84,-81,-79.9,-82.5,-73,-82.2,-73.4,-83.4,-65.1,-83,-60.7,-81.6,-56,-81.8,-56.3,-83.2,-52.3,-82.3,-50.6,-79.7,-50.2,-81.2,-94,-84.1,-83.5,-84,-82,-84.7,-80.8,-84.8,-73.8,-85.2,-95.8,-87.1,-92.9,-87.8,-76.3,-86.8,-68.6,-87,-71.4,-88,-54.9,-86.4,-77.4,-88.4,-56.2,-88.5,-52.8,-89.8,-82,-89.6,-82.7,-90,-78,-89.6,-78,-90.6,-76.3,-90.2,-74.6,-90.2,-91.3,-90.3,-79.5,-91,-80,-91.3,-63.8,-90,-64,-90.3,-59.5,-90.4,-59,-90.8,-90.3,-91.9,-89.9,-92.6,-93.4,-92.6,-87.3,-92.9,-85.8,-92.9,-55.8,-91.8,-48.8,-92.3,-69.9,-93.2,-75.5,-93.9,-62.2,-93.6,-71.8,-95.6,-70.8,-95.8,-48.9,-95.4];
const dotsBottomMid = [-47.9,-51.1,-45.3,-54.6,-42.4,-53.2,-39.4,-53.8,-37.8,-53.7,-36.5,-53.4,-28.5,-51.7,-26,-52.7,-21.5,-52.3,-22.1,-53.4,-15.2,-53,-12.6,-54.7,-22.8,-55.9,-18,-56.5,-16.2,-56,-38.7,-57.7,-41.7,-58.2,-44.5,-59,-41.1,-59.1,-45,-59.7,-47.3,-59.4,-42.8,-61,-38.1,-61.3,-44.9,-61.9,-36.3,-62,-33,-60.9,-30.2,-59.5,-29,-60,-23,-58.1,-18.7,-59,-14.3,-58.1,-11.2,-59.4,-13.7,-60.9,-13.1,-60.3,-8.8,-60.2,-8.1,-60.1,-7.6,-57.2,-3.9,-57.4,-7.7,-61.7,-6.3,-61.7,-3.1,-62.2,-0.7,-61.4,0.5,-59,3.8,-61.3,6.4,-60.9,5.9,-62.4,10.2,-62.2,12.9,-62.2,-21.4,-61.8,-43.7,-63.3,-39.4,-63.5,-46.4,-64.1,-42.1,-64.6,-28.8,-63.3,-25,-63.3,-24.7,-64.3,-23.8,-64.1,-21.9,-64.2,-21.4,-63.5,-17.3,-65.4,6.1,-65.4,10.6,-64.4,13.3,-64.1,14,-64.3,-41.3,-66.2,-1,-65.9,-32.9,-66.9,-33.5,-68.1,-43.8,-67.4,-36.5,-69.3,-34.2,-70.2,-32.7,-70.3,-34.9,-71.9,-46.3,-71.7,-27,-68.8,-26.7,-69.4,-26.7,-70.4,-21.8,-69,-20.1,-67.9,-18.8,-68,-19.6,-69,-12.4,-69.2,-10.6,-69.2,0.4,-69.2,3.4,-68.8,5.8,-67.2,5.9,-68.6,5.8,-70.4,3.8,-70.7,10.7,-67.7,12.3,-69.4,12.8,-70.8,-15,-71.9,-12.7,-72,-12.2,-72,-10.6,-72.2,-6.6,-71.4,1.8,-71.9,-27,-72.8,-20.3,-73.2,-26.6,-74.8,-25.2,-75.2,-11.9,-75,-4.8,-74.7,-0.9,-74.7,-2.2,-75.7,-1.4,-76.5,-1.5,-78.1,6.6,-75.6,-18.5,-77.3,-14.7,-77.1,-9.6,-77.7,-7.5,-78.9,13.8,-77,13.1,-78,-47,-79.4,-46.1,-80,-45.3,-81,-43,-79.5,-35.6,-79.4,-35.1,-79.5,-34.7,-80.7,-36.1,-82.5,-33.8,-84.2,-9.6,-80.4,-8.9,-80.5,0.3,-80.2,7.6,-79.9,-21,-83.3,10.6,-84.4,12.3,-84.4,-41.4,-84.8,-43.3,-85.4,2.4,-85.9,7.3,-86.3,12.6,-86.3,-24.6,-86.7,-18.8,-86.8,-12,-87,-7.9,-87,-37.7,-87.3,-46.1,-87.1,-24.6,-88.2,-16.3,-87.9,-15.4,-88.8,-9.9,-88.5,-10.5,-89.4,-4.7,-87.7,-3.3,-87.4,8.6,-87.4,-48.3,-88.2,-46.4,-88.4,13.4,-88.8,9.1,-89.4,-47.1,-90.3,-42.7,-89.6,-42.2,-89.8,-33,-91,-26.9,-90.6,-12.7,-91.2,-9.9,-91.4,-16.1,-91.7,3.6,-91.3,8.4,-90.9,-45,-91.2,-44.7,-91.5,-41.4,-91.2,-47.9,-91.6,-42.5,-92.5,-34.4,-92.2,-29.4,-92.4,-13.2,-93,-6.9,-93.1,-5.8,-92.8,7.5,-93.4,12.2,-93.1,-48.3,-93.8,-39,-93.9,-25.1,-94.1,-3,-94,1.7,-94.2,0.5,-94.9,10.7,-94.3,-46.3,-94.4,-21.8,-94.9,-21.8,-95.2,-15.5,-95.3,-12.6,-95,8.1,-95.1,-38.2,-95.6,-7.6,-95.8,-48,-96];
const dotsNorthEast = [6.5,93.1,8.4,91.9,9.7,92.8,11.5,92.4,11.2,91,14.3,93.3,13.8,92,8.2,89.3,12.8,89.7,14.4,88.6,11.6,87.6,11.9,86.8,17.8,87.3,20.4,92.6,23.5,95.3,26.2,94.3,26.7,92.8,27.2,91.8,23.7,91.2,22,88.9,25.5,89.2,28.2,88.6,30.3,88.2,29.6,87.6,29.6,86.2,31,86.5,26.1,86.5,20.1,85.6,18.8,84.3,5.5,84.2,10.9,84.3,31.1,95.5,36.7,93.5,36.7,92.4,37.6,92.7,38.7,95,40.2,96,42,94,39.6,92.1,47.7,95.1,43.6,89.8,44.9,90.7,45.4,88.7,44.8,87.2,45.2,85.3,47.8,86.8,50,89.2,54.7,91.6,56.6,89.3,53.2,87.5,53.9,86.7,55.8,87,58,86.8,57.2,85.6,48.4,83.5,54.1,83.7,61.8,93.8,63.6,94.9,66.4,94.9,68,93.7,67.5,91.3,64.2,88.6,70.1,90,71,88.3,69.3,87.1,73.7,89.3,72.8,91.5,73.7,92.4,76.3,92.8,72.1,85.1,74,85.2,79.2,95.1,81.5,95.1,80.5,94.3,78.8,91.9,81.1,92,80.4,90.4,79.4,89.5,79.8,87.1,85.6,89.7,84.5,84.7,81.2,83.9,81.5,82.7,90.2,94.1,90.4,93.2,89.2,92.6,91.6,95.6,93.5,95.5,93.2,92.2,89.6,90.4,90.9,90.6,89.8,87.9,94.4,87.7,95.5,87.7,33.6,82.5,36.6,83.4,34.3,80.7,37.3,81,38.6,81.8,41.4,83.8,42.3,81.5,39.6,79.2,46.8,80.5,48,79.5,49.8,79.5,50,78.3,68.1,83.3,62.5,81.5,60,79.1,67,79.8,75.3,82.5,74.1,81,77.1,80.1,70,79.9,71,79.3,71.8,79.3,71.8,78.4,74.3,79,75.8,78.2,77.4,78,68.6,78.3,65.3,78,66.6,77.9,82.5,80.8,85.3,81.2,86.3,78.4,91.7,79.5,91.1,77.9,92.2,76.5,4.6,80.1,9.4,80.3,15.7,79.7,17.6,79.1,9.4,77.8,11,78,14.3,77.7,13.8,76.1,7.9,75.7,20.4,78.1,22.2,77.5,24.7,78.1,23.4,80.3,24.6,81.4,26.1,80.3,18.8,76,23.8,75.8,25.2,75.9,29.3,76.7,29.8,76.4,31.1,76.7,32,77.1,15.7,74.6,6.2,73.5,11.4,73.5,15.7,72.8,8,71.9,13.3,71.6,11.8,70.9,6.3,70.5,8.9,69.6,5.1,69.2,12.8,69.3,19.1,71.1,18.9,69.5,23.5,70,26,70.5,27.7,71.1,17.1,67.9,19.7,67,27.2,74.3,28.6,73.4,30.5,74.2,29.2,72.4,28.6,71.7,34.4,73.9,33.6,72.3,35.1,72.3,38.6,76.4,38.6,73.7,42.4,73.7,42.9,71.4,36.8,70.3,36.2,69.6,34.6,67.6,47.5,70.1,49.2,69.7,44.8,75.4,46.2,76.3,46.8,75.4,44.3,74.5,48,74.4,49.5,74.7,55,75.2,53.9,73.6,55.6,74,54.7,70.9,56.4,70.5,55.5,69.2,57.6,67.4,46,66.1,49.1,66.7,49.5,65.8,50.6,66.6,50.8,65.2,51.8,65.5,52.3,64.6,53.4,64.2,53.3,63.2,53.4,61.7,55.8,63.9,54.6,60,56.2,60.1,60.5,63.7,60.5,62.2,61.5,60.6,61.7,59.7,62.4,59,65.2,63,66,62.9,66.5,62.7,70.8,63.5,73.2,64.8,73.1,62.7,74.7,61.3,75.1,63.6,75.7,64.6,75.1,65.9,75.7,66.4,73,59.3,70.7,58.8,64.3,75.9,63.3,75.6,66.7,74.1,63.7,73.2,65.3,73.1,70.6,74.6,69.5,73.5,69,72.8,72,76.4,73.1,72.5,72.5,71.3,62.5,71.2,68.5,70.5,68.2,69.3,77.1,72.1,80.8,75.9,80.1,73.1,80.1,71.7,78.9,68.6,82,68,83.5,67.2,87.3,71.7,90.1,72.6,91,71.4,92.4,71.7,92.1,70.2,90.2,70,88.2,69.8,93.2,68.1,94.9,66.5,89.6,63.5,84.6,60.2,86.8,60.5,95.2,60.8,95,59.1,83.3,56.5,83.5,54.2,83.6,53.1,84.9,51.6,87.4,52.9,90.6,54.3,91.9,49.1,13.2,65.5,16.2,65.5,4,65.3,20.4,63.9,20.3,63.2,24.3,64.5,24.8,65.8,26.1,64.1,28.3,64.1,22.6,63,27.7,62.5,13.6,62.3,6.2,61.8,4.7,61.2,9.5,58.8,20.4,58.6,22,57.5,22.8,57.9,25,57.9,27.8,57.4,30.6,58.4,32.9,57.4,32.9,56,33.9,60.2,34.6,59.2,36,61.3,36.6,60.1,40.6,57.5,49,57.6,50.5,55.4,57.4,55.2,60,55,55.9,54,62.3,54.3,62.5,56.8,63.8,56,65,56.5,65.2,55.6,64.7,54.4,68.2,54.1,69.9,54.7,71,53.4,70.4,52.5,72,52.4,76,52.4,36.4,55,41.2,54.2,41.5,52.8,37,53,41.2,51.4,42.8,51.8,31.8,53.1,29.3,53.2,15.2,54.1,18.3,54.5,11,53.7,10.8,52.3,10.3,52.1,5.2,55.8,8.1,55.2,18.3,52,19.7,52,18.6,51.1,21.6,50.2,23.9,50.8,25.8,51,28,50.4,52.2,52.6,51.3,50.8,55.2,51.7,54.9,50.6,57.2,51.7,60,51.6,61.9,51.6,55.6,49.9,44.3,48.8,53.3,48.9,67.8,49.3,68.4,47.9,6.7,48.4,9.2,48.1,12.2,47.9,13.4,46.8,26.9,48.5,27,46.8,21.8,46.2,22.7,46.2,24.7,45.5,28.5,45.8,28.7,45.2,31.6,46.7,35,45.8,35.6,45.4,36.4,44,23.5,44.1,22.5,43,24.2,42.6,23.8,41.5,26,43.4,26.3,42.5,28.2,42.6,26.7,40.6,17.9,43.1,16.8,41.2,19.5,40.6,15.3,39.7,13.2,41.1,36.8,40.9,39,39.7,43.9,42.2,43.3,40,49.3,39.7,53.6,38.6,55.6,44.4,57.3,44.9,62.4,44.2,56.2,41.7,59.4,41.4,61.5,41,57.1,40.1,59.2,39.7,55.7,39.1,60.2,38,67.8,43.7,68.5,42.7,66.5,40.8,67.2,40.6,70.8,45.7,71.6,44.6,73.3,40.9,72.9,40.5,76.2,40.3,78.1,45.4,83.5,45.5,84.5,44.2,83.8,42.4,84.1,41.3,84.5,39.2,86.4,45.2,87.3,44.7,90.9,44,94,44.8,90,39.5,93.1,36.1,68.8,37.7,47.7,36.6,57.2,35,59.4,34.6,64,35.1,68.1,35.1,78.4,35.4,48.5,34.9,22.3,35.3,32.3,39.2,31.9,38.7,29.2,38,29.5,36.4,32.8,36.9,38.3,38,38.4,36.6,38.1,36,37.6,35,18.6,38.1,17.3,38,16.8,37.6,9.2,37.4,9.2,36,6.2,38,5.8,35.2,13.6,35.4,10.2,42.8,12.4,38.9];

const toPoints = a => { const out = []; for (let i = 0; i < a.length; i += 2) out.push({x: a[i], y: a[i + 1]}); return out; };
const zipXY = (xs, ys) => xs.map((x, i) => ({x, y: ys[i]}));

// walk down the right edge and back up the left edge of a stepped block
function stairs(left, right, endY) {
  const pts = [];
  right.forEach(([y, x], i) => {
    pts.push({x, y}, {x, y: i + 1 < right.length ? right[i + 1][0] : endY});
  });
  for (let i = left.length - 1; i >= 0; i--) {
    const [y, x] = left[i];
    pts.push({x, y: i + 1 < left.length ? left[i + 1][0] : endY}, {x, y});
  }
  return pts;
}

const GREY = '#b0b0b0', RED = '#800000', INK = '#262626';
const block = (data, color = GREY) => ({data, showLine: true, fill: 'shape', backgroundColor: color, borderColor: 'transparent', borderWidth: 0, pointRadius: 0, tension: 0, order: 9});
const track = (data, dash, order, width = 6) => ({data, showLine: true, borderColor: RED, borderWidth: width, borderDash: dash, pointRadius: 0, tension: 0, fill: false, order});

const allDots = [dotsNW, dotsN, dotsCentre, dotsWest, dotsSouthWest, dotsSouthCentre, dotsCluster, dotsEast, dotsSouthEast, dotsBottomLeft, dotsBottomMid, dotsNorthEast].flatMap(toPoints);

const datasets = [
  block(stairs(wallALeft, wallARight, -9.33)),
  block(stairs(wallA2Left, wallA2Right, 80)),
  block(stairs(holeALeft, holeARight, 33.33), '#ffffff'),
  block(stairs(wallBLeft, wallBRight, 84)),
  block(stairs(wallCLeft, wallCRight, -33.33)),
  block(stairs(wallDLeft, wallDRight, -38.67)),
  block(stairs(wallELeft, wallERight, 26.67)),
  block(stairs(wallE2Left, wallE2Right, 34.67)),
  block(stairs(wallFLeft, wallFRight, 0)),
  block(stairs(wallGLeft, wallGRight, -74.67)),
  block(stairs(wallHLeft, wallHRight, -81.33)),
  block(stairs(wallH2Left, wallH2Right, -85.33)),
  block(stairs(wallJLeft, wallJRight, -100)),
  block(stairs(wallILeft, wallIRight, -93.33)),
  track(zipXY(trailAX, trailAY), [10, 14], 6),
  track(zipXY(trailBX, trailBY), [10, 22], 6),
  track(zipXY(trailCX, trailCY), [10, 22], 6),
  track(zipXY(trailDX, trailDY), [], 6),
  track(zipXY(trailEX, trailEY), [], 6),
  track(zipXY(trailFX, trailFY), [], 6),
  track(zipXY(trailGX, trailGY), [10, 10], 6),
  {data: toPoints(agentRings), pointRadius: 16.5, pointHoverRadius: 16.5, pointBorderWidth: 6.5, pointBackgroundColor: 'transparent', pointBorderColor: RED, showLine: false, order: 5},
  {data: allDots, pointRadius: 6.5, pointHoverRadius: 6.5, pointBorderWidth: 0, pointBackgroundColor: '#0000ff', showLine: false, order: 3},
  track(zipXY(pathX, pathY), [], 1),
  track(zipXY(squareX, squareY), [], 1)
];

const FONT = '"Liberation Sans", Arial, sans-serif';

// matlab style box: ticks point inwards on all four sides, y labels sit a touch below their tick
const boxPlugin = {
  id: 'box',
  afterDatasetsDraw(chart) {
    const {ctx, chartArea: a, scales: {x, y}} = chart;
    ctx.save();
    ctx.strokeStyle = INK;
    ctx.lineWidth = 4.5;
    ctx.beginPath();
    tickValues.forEach(v => {
      const px = x.getPixelForValue(v), py = y.getPixelForValue(v);
      ctx.moveTo(px, a.top); ctx.lineTo(px, a.top + 21);
      ctx.moveTo(px, a.bottom); ctx.lineTo(px, a.bottom - 21);
      ctx.moveTo(a.left, py); ctx.lineTo(a.left + 21, py);
      ctx.moveTo(a.right, py); ctx.lineTo(a.right - 21, py);
    });
    ctx.stroke();
    ctx.lineWidth = 5;
    ctx.strokeRect(a.left, a.top, a.right - a.left, a.bottom - a.top);
    ctx.fillStyle = INK;
    ctx.font = '56px ' + FONT;
    ctx.textAlign = 'right';
    ctx.textBaseline = 'alphabetic';
    tickValues.forEach(v => ctx.fillText(String(v), a.left - 23, y.getPixelForValue(v) + 23));
    ctx.restore();
  }
};

new Chart(document.getElementById('c'), {
  type: 'scatter',
  data: {datasets},
  plugins: [boxPlugin],
  options: {
    responsive: false,
    animation: false,
    events: [],
    layout: {padding: {right: 98}},
    plugins: {
      legend: {display: false},
      tooltip: {enabled: false},
      title: {display: true, text: 'Agents Running=[1]', color: '#000', fullSize: false,
        font: {family: FONT, size: 66, weight: 'bold'}, padding: {top: 25.4, bottom: 12.9}}
    },
    scales: {
      x: {
        type: 'linear', min: -100, max: 100,
        afterBuildTicks: s => { s.ticks = tickValues.map(value => ({value})); },
        afterFit: s => { s.height = 206.3; },
        grid: {display: false, drawTicks: false}, border: {display: false},
        ticks: {color: INK, padding: 31, maxRotation: 0, autoSkip: false, font: {family: FONT, size: 56}},
        title: {display: true, text: 'X (m)', color: INK, font: {family: FONT, size: 66}, padding: {bottom: 22}}
      },
      y: {
        type: 'linear', min: -100, max: 100,
        afterBuildTicks: s => { s.ticks = tickValues.map(value => ({value})); },
        afterFit: s => { s.width = 252.5; },
        grid: {display: false, drawTicks: false}, border: {display: false},
        ticks: {display: false},
        title: {display: true, text: 'Y (m)', color: INK, font: {family: FONT, size: 66}, padding: {top: 23}}
      }
    }
  }
});
</script>
</body>
</html>
